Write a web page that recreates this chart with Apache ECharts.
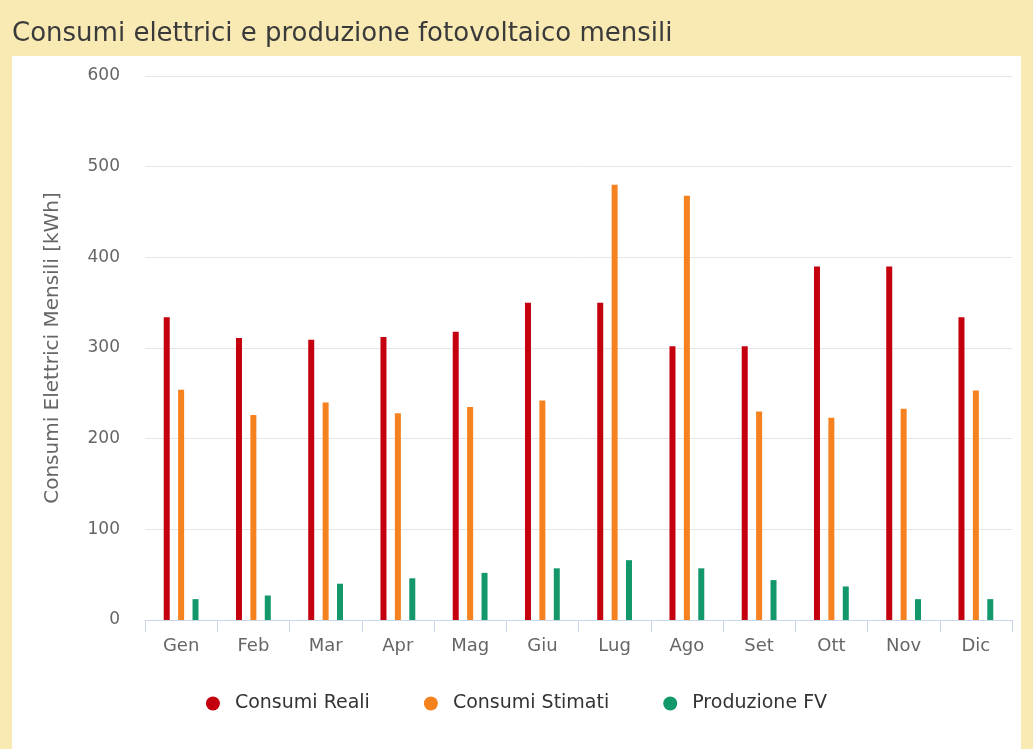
<!DOCTYPE html>
<html>
<head>
<meta charset="utf-8">
<script src="https://cdn.jsdelivr.net/npm/echarts@6/dist/echarts.min.js"></script>
<style>
html,body{margin:0;padding:0;background:#f9eab3;}
#chart{width:1033px;height:749px;}
</style>
</head>
<body>
<div id="chart"></div>
<script>
const titleText = 'Consumi elettrici e produzione fotovoltaico mensili';
const yAxisName = 'Consumi Elettrici Mensili [kWh]';
const months = ['Gen','Feb','Mar','Apr','Mag','Giu','Lug','Ago','Set','Ott','Nov','Dic'];
const consumiReali = [334, 311, 309, 312, 318, 350, 350, 302, 302, 390, 390, 334];
const consumiStimati = [254, 226, 240, 228, 235, 242, 480, 468, 230, 223, 233, 253];
const produzioneFV = [23, 27, 40, 46, 52, 57, 66, 57, 44, 37, 23, 23];
const seriesNames = ['Consumi Reali', 'Consumi Stimati', 'Produzione FV'];
const yTicks = [0, 100, 200, 300, 400, 500, 600];

const chart = echarts.init(document.getElementById('chart'), null, {renderer: 'canvas'});
const font = 'DejaVu Sans';
chart.setOption({
  backgroundColor: 'transparent',
  animation: false,
  graphic: [{
    type: 'rect', left: 12, top: 56, z: -10,
    shape: {width: 1009, height: 693},
    style: {fill: '#ffffff'}
  }],
  title: {
    text: titleText, left: 7, top: 16,
    textStyle: {fontFamily: font, fontSize: 26, fontWeight: 'normal', color: '#3a3a3a'}
  },
  color: ['#c4000e', '#f5821f', '#13986a'],
  legend: {
    left: 'center', top: 689, itemGap: 54, itemWidth: 14, itemHeight: 14,
    icon: 'circle',
    textStyle: {fontFamily: font, fontSize: 19, color: '#333', padding: [0, 0, 0, 10]},
    data: seriesNames
  },
  grid: {left: 145, right: 21, top: 76, bottom: 129},
  xAxis: {
    type: 'category', data: months,
    axisLine: {lineStyle: {color: '#ccd6eb'}},
    axisTick: {show: true, length: 12, lineStyle: {color: '#ccd6eb'}},
    axisLabel: {fontFamily: font, fontSize: 18, color: '#666', margin: 17}
  },
  yAxis: {
    type: 'value', min: yTicks[0], max: yTicks[yTicks.length - 1], interval: 100,
    name: yAxisName, nameLocation: 'middle', nameGap: 82, nameRotate: 90,
    nameTextStyle: {fontFamily: font, fontSize: 20, color: '#666'},
    axisLine: {show: false}, axisTick: {show: false},
    axisLabel: {fontFamily: font, fontSize: 17, color: '#666', margin: 25},
    splitLine: {lineStyle: {color: '#e6e6e6'}}
  },
  series: [
    {name: seriesNames[0], type: 'bar', data: consumiReali, barWidth: 6, barGap: '140%'},
    {name: seriesNames[1], type: 'bar', data: consumiStimati, barWidth: 6, barGap: '140%'},
    {name: seriesNames[2], type: 'bar', data: produzioneFV, barWidth: 6, barGap: '140%'}
  ]
});
</script>
</body>
</html>
